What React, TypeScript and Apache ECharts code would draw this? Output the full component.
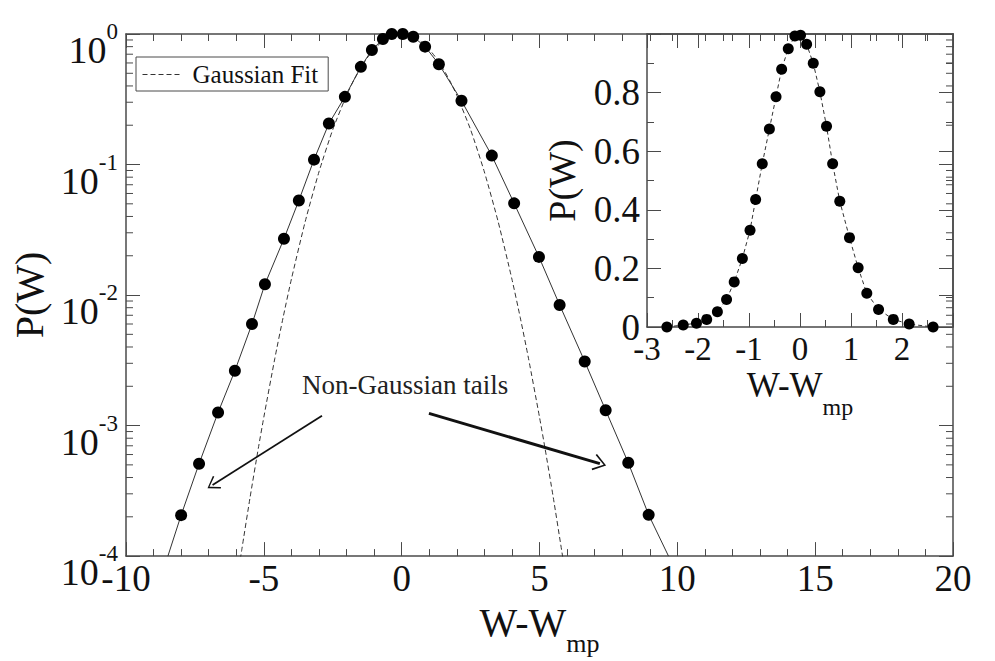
import React, { useEffect, useRef } from "react";
import * as echarts from "echarts";

const SERIF = "Liberation Serif";
const AXIS = "#4a4a4a";
const INK = "#111111";

// Main panel: measured distribution P(W) against W - W_mp (log scale)
const mainW = [
  -8.0, -7.35, -6.66, -6.05, -5.43, -4.96, -4.27, -3.73, -3.18, -2.64,
  -2.06, -1.48, -1.08, -0.68, -0.36, 0.04, 0.42, 0.85, 1.35, 2.17,
  3.27, 4.08, 4.98, 5.73, 6.64, 7.4, 8.22, 8.96,
];
const mainP = [
  2.06e-4, 5.1e-4, 1.26e-3, 2.63e-3, 6.0e-3, 1.21e-2, 2.7e-2, 5.3e-2, 0.109, 0.206,
  0.33, 0.56, 0.755, 0.916, 1.0, 1.0, 0.953, 0.8, 0.587, 0.308,
  0.117, 0.0504, 0.0196, 0.0084, 0.0031, 0.00131, 5.19e-4, 2.07e-4,
];

// The solid guide through the points continues down to the P = 1e-4 floor
const guideEndsW = [-8.48, 9.68];
const floorP = 1e-4;

// Gaussian fit (dashed)
const fitW = [
  -5.9, -5.8, -5.5, -5.2, -5.0, -4.6, -4.3, -4.0, -3.5, -3.0, -2.5, -2.0,
  -1.75, -1.5, -1.25, -1.0, -0.75, -0.5, -0.25, 0,
  0.25, 0.5, 0.75, 1.0, 1.25, 1.5, 1.75,
  2.0, 2.5, 3.0, 3.5, 4.0, 4.3, 4.6, 5.0, 5.2, 5.5, 5.8, 5.9,
];
const fitP = [
  8.2e-5, 1.12e-4, 2.81e-4, 6.7e-4, 1.16e-3, 3.28e-3, 6.75e-3, 0.01324, 0.0365, 0.0878, 0.185, 0.339,
  0.437, 0.544, 0.655, 0.763, 0.859, 0.935, 0.983, 1.0,
  0.983, 0.935, 0.859, 0.763, 0.655, 0.544, 0.437,
  0.339, 0.185, 0.0878, 0.0365, 0.01324, 6.75e-3, 3.28e-3, 1.16e-3, 6.7e-4, 2.81e-4, 1.12e-4, 8.2e-5,
];

// Inset: the same distribution on a linear scale
const insetW = [
  -2.61, -2.29, -2.03, -1.83, -1.62, -1.44, -1.29, -1.13, -0.98, -0.87,
  -0.74, -0.6, -0.47, -0.36, -0.23, -0.1, 0.01, 0.13, 0.26, 0.39,
  0.52, 0.64, 0.78, 0.97, 1.14, 1.31, 1.54, 1.83, 2.14, 2.61,
];
const insetP = [
  0.0, 0.007, 0.013, 0.026, 0.052, 0.094, 0.154, 0.234, 0.33, 0.435,
  0.557, 0.676, 0.786, 0.88, 0.95, 0.993, 0.996, 0.965, 0.9, 0.803,
  0.685, 0.557, 0.429, 0.305, 0.202, 0.115, 0.06, 0.026, 0.01, 0.0,
];

// "Non-Gaussian tails" arrows: [start W, start P, head W, head P]
const leftArrow = [-2.89, 1.19e-3, -6.86, 3.51e-4];
const rightArrow = [0.99, 1.24e-3, 7.19, 5.11e-4];
const annotationText = "Non-Gaussian tails";
const fitName = "Gaussian Fit";

// Decades shown on the log axis and the 2..9 minor marks inside them
const decades = [-4, -3, -2, -1];
const logMinorTicks: number[] = [];
decades.forEach((e) => {
  for (let m = 2; m <= 9; m++) logMinorTicks.push(m * Math.pow(10, e));
});

const chevron = "path://M0,0 L8,12 L6.6,13 L0,2.6 L-6.6,13 L-8,12 Z";

// "W-W" with a dropped "mp" subscript
function wName(big: number, small: number, pad: number) {
  return {
    a: { fontFamily: SERIF, fontSize: big, lineHeight: big, verticalAlign: "top", color: INK },
    b: {
      fontFamily: SERIF,
      fontSize: small,
      lineHeight: small,
      verticalAlign: "top",
      padding: [pad, 0, 0, 0],
      color: INK,
    },
  };
}

const tickLine = { lineStyle: { color: AXIS, width: 1 } };
const axisLineStyle = { show: true, onZero: false, lineStyle: { color: AXIS, width: 1.5 } };

export default function App() {
  const ref = useRef<HTMLDivElement>(null);

  useEffect(() => {
    if (!ref.current) return;
    const chart = echarts.init(ref.current, undefined, { renderer: "svg" });

    const mainPts = mainW.map((w, i) => [w, mainP[i]]);
    const guidePts = [[guideEndsW[0], floorP], ...mainPts, [guideEndsW[1], floorP]];
    const fitPts = fitW.map((w, i) => [w, fitP[i]]);
    const insetPts = insetW.map((w, i) => [w, insetP[i]]);

    const mainX = {
      type: "value",
      gridIndex: 0,
      min: -10,
      max: 20,
      interval: 5,
      axisLine: axisLineStyle,
      splitLine: { show: false },
      axisTick: { show: true, inside: true, length: 14, ...tickLine },
      minorTick: { show: true, splitNumber: 5, length: 7, ...tickLine },
    };
    const insetX = {
      type: "value",
      gridIndex: 1,
      min: -3,
      max: 3,
      interval: 1,
      axisLine: axisLineStyle,
      splitLine: { show: false },
      axisTick: { show: true, inside: true, length: 14, ...tickLine },
      minorTick: { show: true, splitNumber: 2, length: 7, ...tickLine },
    };
    const mainY = {
      type: "log",
      logBase: 10,
      gridIndex: 0,
      min: 1e-4,
      max: 1,
      axisLine: axisLineStyle,
      splitLine: { show: false },
      axisTick: { show: true, inside: true, length: 14, ...tickLine },
    };
    const insetY = {
      type: "value",
      gridIndex: 1,
      min: 0,
      max: 1,
      interval: 0.2,
      axisLine: axisLineStyle,
      splitLine: { show: false },
      axisTick: { show: true, inside: true, length: 14, ...tickLine },
      minorTick: { show: true, splitNumber: 2, length: 7, ...tickLine },
    };

    chart.setOption({
      animation: false,
      backgroundColor: "#ffffff",
      textStyle: { fontFamily: SERIF },
      grid: [
        { left: 126, top: 34, width: 827, height: 524 },
        { left: 647, top: 34, width: 306, height: 293 },
      ],
      legend: {
        data: [fitName],
        left: 136,
        top: 57,
        padding: [5, 10, 4, 6],
        borderColor: AXIS,
        borderWidth: 1,
        borderRadius: 0,
        itemWidth: 37,
        itemHeight: 12,
        selectedMode: false,
        itemStyle: { opacity: 0 },
        lineStyle: { color: "#333", width: 1, type: [5, 3] },
        textStyle: { fontFamily: SERIF, fontSize: 25, color: INK, padding: [0, 0, 0, 8] },
      },
      xAxis: [
        {
          ...mainX,
          position: "bottom",
          axisLabel: { fontFamily: SERIF, fontSize: 37, color: INK, margin: 4 },
          name: "{a|W-W}{b|mp}",
          nameLocation: "middle",
          nameGap: 42,
          nameTextStyle: { rich: wName(40, 26, 28) },
        },
        { ...mainX, position: "top", axisLabel: { show: false } },
        {
          ...insetX,
          position: "bottom",
          axisLabel: { fontFamily: SERIF, fontSize: 33, color: INK, margin: 5, showMaxLabel: false },
          name: "{a|W-W}{b|mp}",
          nameLocation: "middle",
          nameGap: 41,
          nameTextStyle: { rich: wName(35, 24, 27) },
        },
        { ...insetX, position: "top", axisLabel: { show: false } },
      ],
      yAxis: [
        {
          ...mainY,
          position: "left",
          axisLabel: {
            margin: 8,
            formatter: (v: number) => `{b|10}{s|${Math.round(Math.log10(v))}}`,
            rich: {
              b: {
                fontFamily: SERIF,
                fontSize: 38,
                lineHeight: 38,
                verticalAlign: "top",
                padding: [16, 0, 2, 0],
                color: INK,
              },
              s: {
                fontFamily: SERIF,
                fontSize: 23,
                lineHeight: 23,
                verticalAlign: "top",
                padding: [5, 0, 0, 0],
                color: INK,
              },
            },
          },
          name: "P(W)",
          nameLocation: "middle",
          nameGap: 72,
          nameTextStyle: { fontFamily: SERIF, fontSize: 40, color: INK },
        },
        { ...mainY, position: "right", axisLabel: { show: false } },
        {
          ...insetY,
          position: "left",
          axisLabel: {
            fontFamily: SERIF,
            fontSize: 37,
            color: INK,
            margin: 7,
            showMaxLabel: false,
            formatter: (v: number) => (v === 0 ? "0" : v.toFixed(1)),
          },
          name: "P(W)",
          nameLocation: "middle",
          nameGap: 66,
          nameTextStyle: { fontFamily: SERIF, fontSize: 38, color: INK },
        },
        { ...insetY, position: "right", axisLabel: { show: false } },
      ],
      graphic: [
        {
          type: "text",
          left: 302,
          top: 371,
          style: { text: annotationText, fontFamily: SERIF, fontSize: 27, fill: "#222" },
        },
      ],
      series: [
        {
          // 2..9 x 10^k marks on both log axes
          type: "custom",
          xAxisIndex: 0,
          yAxisIndex: 0,
          silent: true,
          data: logMinorTicks.map((v) => [-10, v]),
          renderItem: (params: any, api: any) => {
            const y = api.coord([api.value(0), api.value(1)])[1];
            const cs = params.coordSys;
            const style = { stroke: AXIS, lineWidth: 1 };
            return {
              type: "group",
              children: [
                { type: "line", shape: { x1: cs.x, y1: y, x2: cs.x + 7, y2: y }, style },
                {
                  type: "line",
                  shape: { x1: cs.x + cs.width, y1: y, x2: cs.x + cs.width - 7, y2: y },
                  style,
                },
              ],
            };
          },
        },
        {
          name: fitName,
          type: "line",
          xAxisIndex: 0,
          yAxisIndex: 0,
          data: fitPts,
          symbol: "none",
          smooth: 0.2,
          clip: true,
          lineStyle: { color: "#333", width: 1, type: [5, 3] },
          itemStyle: { color: "#333" },
        },
        {
          name: "guide",
          type: "line",
          xAxisIndex: 0,
          yAxisIndex: 0,
          data: guidePts,
          symbol: "none",
          clip: true,
          lineStyle: { color: "#333", width: 1 },
          markLine: {
            silent: true,
            animation: false,
            label: { show: false },
            data: [
              [
                { coord: [leftArrow[0], leftArrow[1]], symbol: "none" },
                {
                  coord: [leftArrow[2], leftArrow[3]],
                  symbol: chevron,
                  symbolSize: [15, 12],
                  lineStyle: { color: "#111", width: 1.8, type: "solid" },
                },
              ],
              [
                { coord: [rightArrow[0], rightArrow[1]], symbol: "none" },
                {
                  coord: [rightArrow[2], rightArrow[3]],
                  symbol: chevron,
                  symbolSize: [17, 13],
                  lineStyle: { color: "#111", width: 3, type: "solid" },
                },
              ],
            ],
          },
        },
        {
          name: "P(W)",
          type: "scatter",
          xAxisIndex: 0,
          yAxisIndex: 0,
          data: mainPts,
          symbol: "circle",
          symbolSize: 12,
          itemStyle: { color: "#000", opacity: 1 },
          z: 5,
        },
        {
          name: "inset",
          type: "line",
          xAxisIndex: 2,
          yAxisIndex: 2,
          data: insetPts,
          symbol: "circle",
          symbolSize: 11,
          showSymbol: true,
          itemStyle: { color: "#000", opacity: 1 },
          lineStyle: { color: "#333", width: 1, type: [4, 3] },
          z: 5,
        },
      ],
    });

    return () => chart.dispose();
  }, []);

  return (
    <div
      ref={ref}
      style={{ position: "fixed", left: 0, top: 0, width: 995, height: 661, background: "#fff" }}
    />
  );
}
